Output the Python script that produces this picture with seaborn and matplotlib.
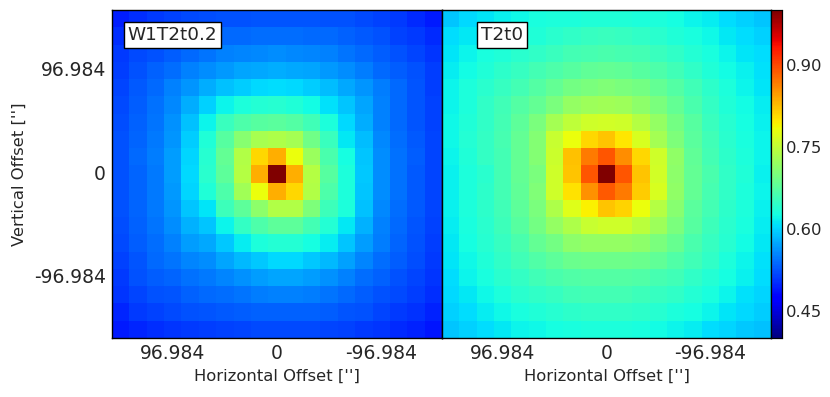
import numpy as np
import seaborn as sns
import matplotlib
matplotlib.use("Agg")
import matplotlib.pyplot as plt

# Values, top row first
w1t2_values = [
    [.492, .502, .508, .514, .518, .520, .522, .524, .526, .526, .526, .526, .524, .522, .518, .514, .508, .500, .490],
    [.502, .510, .516, .522, .528, .532, .536, .538, .540, .540, .540, .538, .536, .532, .528, .522, .514, .508, .500],
    [.508, .518, .524, .530, .538, .544, .550, .554, .556, .558, .556, .554, .550, .544, .536, .530, .522, .516, .506],
    [.512, .524, .532, .540, .550, .558, .566, .572, .574, .576, .574, .572, .566, .558, .548, .538, .530, .522, .512],
    [.516, .528, .538, .550, .564, .576, .588, .596, .602, .604, .602, .596, .586, .574, .562, .548, .536, .526, .512],
    [.518, .530, .542, .556, .576, .598, .618, .630, .636, .638, .634, .624, .608, .590, .572, .552, .538, .526, .514],
    [.520, .532, .544, .560, .588, .620, .652, .666, .674, .676, .670, .656, .630, .602, .576, .552, .538, .526, .514],
    [.522, .534, .546, .564, .596, .634, .672, .708, .732, .737, .730, .692, .652, .612, .586, .556, .540, .528, .516],
    [.522, .536, .548, .568, .600, .638, .682, .738, .808, .835, .781, .722, .664, .627, .592, .558, .542, .530, .516],
    [.522, .534, .546, .567, .602, .640, .678, .740, .835, 1.00, .835, .740, .674, .630, .594, .558, .542, .528, .516],
    [.522, .534, .546, .566, .600, .634, .666, .726, .781, .835, .808, .738, .666, .630, .592, .558, .542, .528, .516],
    [.522, .534, .546, .562, .592, .609, .654, .678, .714, .738, .738, .702, .654, .630, .588, .556, .540, .528, .516],
    [.520, .532, .544, .558, .580, .592, .620, .648, .666, .678, .678, .660, .636, .612, .580, .552, .538, .526, .514],
    [.518, .530, .540, .552, .568, .574, .594, .614, .630, .636, .636, .627, .614, .592, .568, .548, .534, .524, .512],
    [.514, .526, .536, .544, .554, .558, .572, .584, .594, .602, .602, .594, .584, .570, .554, .540, .530, .520, .510],
    [.510, .522, .530, .534, .542, .546, .554, .560, .568, .572, .572, .568, .560, .552, .540, .532, .524, .516, .506],
    [.506, .516, .522, .526, .532, .536, .540, .544, .548, .550, .550, .548, .544, .538, .530, .524, .518, .512, .502],
    [.498, .508, .514, .518, .522, .526, .528, .530, .532, .532, .532, .532, .530, .526, .522, .516, .510, .504, .496],
    [.490, .498, .502, .506, .510, .512, .514, .516, .518, .518, .518, .518, .516, .514, .510, .506, .500, .494, .488],
]

t2_values = [
    [.592, .602, .610, .616, .622, .628, .630, .632, .634, .634, .634, .632, .630, .626, .620, .614, .606, .598, .592],
    [.604, .612, .620, .626, .630, .634, .640, .644, .650, .652, .650, .644, .640, .634, .628, .622, .612, .604, .598],
    [.610, .620, .628, .634, .640, .646, .652, .658, .662, .664, .662, .658, .652, .644, .636, .628, .620, .610, .604],
    [.614, .624, .634, .642, .650, .658, .666, .672, .680, .682, .680, .674, .666, .656, .646, .634, .624, .616, .608],
    [.618, .630, .640, .650, .660, .670, .682, .694, .700, .704, .700, .694, .682, .670, .656, .642, .630, .620, .610],
    [.620, .632, .644, .656, .670, .682, .700, .718, .724, .726, .724, .712, .700, .682, .664, .648, .634, .624, .614],
    [.622, .634, .646, .660, .678, .700, .730, .748, .760, .763, .760, .742, .718, .694, .672, .652, .638, .626, .616],
    [.622, .636, .648, .662, .682, .706, .754, .781, .808, .820, .799, .766, .730, .702, .676, .656, .640, .628, .618],
    [.620, .634, .648, .660, .682, .706, .757, .823, .868, .892, .856, .808, .760, .716, .680, .660, .642, .630, .618],
    [.616, .630, .640, .658, .682, .700, .760, .820, .892, 1.00, .892, .820, .763, .712, .682, .664, .646, .634, .616],
    [.616, .630, .642, .658, .680, .704, .760, .802, .853, .889, .868, .817, .766, .716, .682, .662, .644, .632, .618],
    [.616, .630, .642, .656, .678, .700, .736, .772, .793, .820, .811, .781, .742, .708, .676, .658, .642, .630, .616],
    [.614, .628, .640, .654, .672, .694, .718, .736, .754, .760, .760, .745, .724, .700, .672, .654, .640, .628, .614],
    [.612, .626, .638, .650, .664, .682, .694, .712, .718, .718, .718, .712, .700, .684, .664, .650, .638, .624, .612],
    [.610, .622, .634, .646, .656, .668, .678, .686, .690, .690, .690, .686, .680, .668, .656, .644, .632, .620, .608],
    [.606, .618, .628, .640, .648, .656, .664, .668, .670, .670, .670, .668, .662, .656, .646, .636, .626, .616, .604],
    [.602, .612, .622, .632, .640, .644, .650, .656, .658, .658, .658, .654, .650, .644, .636, .628, .618, .608, .600],
    [.598, .606, .614, .622, .628, .634, .638, .642, .644, .646, .644, .642, .638, .632, .626, .618, .610, .602, .596],
    [.590, .598, .606, .612, .618, .622, .626, .628, .631, .631, .631, .628, .624, .620, .614, .606, .600, .594, .588],
]

tick_positions = [3.5, 9.5, 15.5]
offset_labels = ["96.984", "0", "-96.984"]
cbar_ticks = [0.45, 0.60, 0.75, 0.90]

sns.set_style("white")
plt.rcParams["font.family"] = ["DejaVu Sans"]

fig = plt.figure(figsize=(8.3, 3.97), dpi=100)
W, H = 830, 397
ax1 = fig.add_axes([112 / W, (H - 338) / H, 330 / W, 328 / H])
ax2 = fig.add_axes([442 / W, (H - 338) / H, 329 / W, 328 / H])
cax = fig.add_axes([771 / W, (H - 338) / H, 10.5 / W, 328 / H])

sns.heatmap(np.array(w1t2_values), ax=ax1, cmap="jet", vmin=0.4, vmax=1.0, cbar=False)
sns.heatmap(
    np.array(t2_values),
    ax=ax2,
    cmap="jet",
    vmin=0.4,
    vmax=1.0,
    cbar_ax=cax,
    cbar_kws={"ticks": cbar_ticks, "format": "%.2f"},
)

for ax in [ax1, ax2]:
    ax.set_xticks(tick_positions)
    ax.set_xticklabels(offset_labels, rotation=0, fontsize=13.5, color="#262626")
    ax.set_yticks(tick_positions)
    ax.tick_params(direction="in", top=True, right=True, bottom=True, left=True, length=4, width=0.7, color="k", pad=4.5)
    for spine in ax.spines.values():
        spine.set_visible(True)
        spine.set_color("k")
        spine.set_linewidth(1.0)
    ax.set_xlabel("Horizontal Offset ['']", fontsize=11.8, color="#262626", labelpad=4)

ax1.set_yticklabels(offset_labels, rotation=0, fontsize=13.5, color="#262626")
ax2.set_yticklabels([])
ax1.set_ylabel("Vertical Offset ['']", fontsize=11.8, color="#262626", labelpad=5)

box = dict(boxstyle="square,pad=0.2", facecolor="white", edgecolor="k", linewidth=1.0)
ax1.text(0.048, 0.924, "W1T2t0.2", transform=ax1.transAxes, fontsize=13.2, color="#262626", va="center", bbox=box)
ax2.text(0.118, 0.924, "T2t0", transform=ax2.transAxes, fontsize=13.2, color="#262626", va="center", bbox=box)

cax.tick_params(direction="in", right=True, left=False, length=4, width=0.7, color="k", labelsize=11.8, labelcolor="#262626", pad=3)
for spine in cax.spines.values():
    spine.set_visible(True)
    spine.set_color("k")
    spine.set_linewidth(0.8)

fig.savefig("out.png", dpi=100)
